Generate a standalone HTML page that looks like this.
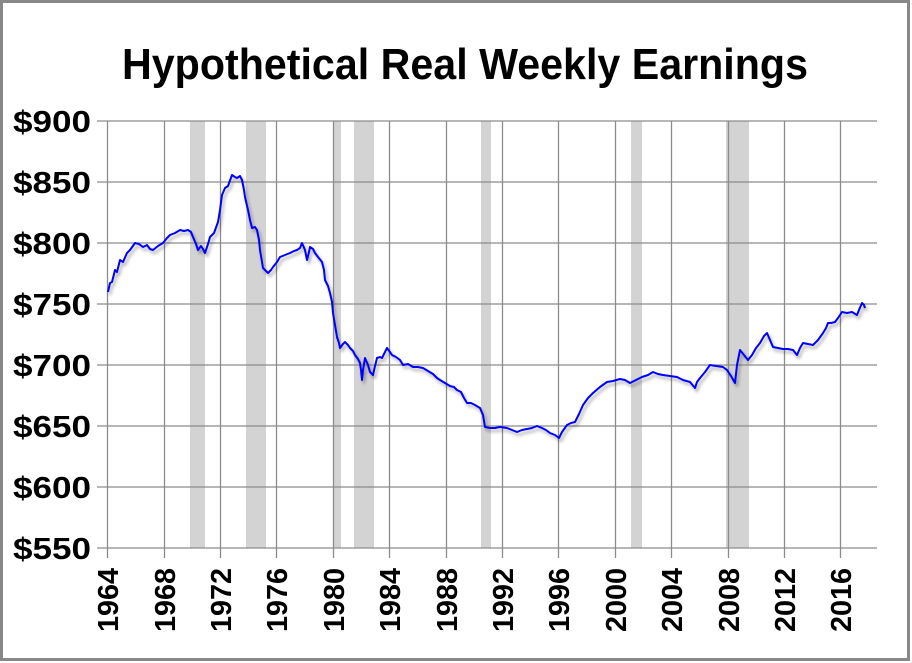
<!DOCTYPE html>
<html><head><style>
html,body{margin:0;padding:0;background:#fff;}
svg{display:block;}
</style></head><body>
<svg width="912" height="663" viewBox="0 0 912 663" xmlns="http://www.w3.org/2000/svg">
<defs><filter id="sh" x="-5%" y="-5%" width="110%" height="110%"><feGaussianBlur in="SourceAlpha" stdDeviation="1.5"/><feOffset dx="2" dy="3"/><feComponentTransfer><feFuncA type="linear" slope="0.35"/></feComponentTransfer><feMerge><feMergeNode/><feMergeNode in="SourceGraphic"/></feMerge></filter></defs>
<rect x="1.5" y="1.5" width="907" height="658" fill="#fff" stroke="#888" stroke-width="3"/>
<text x="465" y="79" text-anchor="middle" font-family="Liberation Sans, sans-serif" font-weight="bold" font-size="44" textLength="686" lengthAdjust="spacingAndGlyphs">Hypothetical Real Weekly Earnings</text>
<g fill="#d3d3d3">
<rect x="190" y="121" width="15" height="427"/><rect x="246" y="121" width="20" height="427"/>
<rect x="333" y="121" width="8" height="427"/><rect x="354" y="121" width="20" height="427"/>
<rect x="481" y="121" width="10" height="427"/><rect x="631" y="121" width="11" height="427"/>
<rect x="726" y="121" width="23" height="427"/>
</g>
<g stroke="#8c8c8c" stroke-width="1.3">
<line x1="97" y1="121" x2="877" y2="121"/><line x1="97" y1="182" x2="877" y2="182"/>
<line x1="97" y1="243" x2="877" y2="243"/><line x1="97" y1="304" x2="877" y2="304"/>
<line x1="97" y1="365" x2="877" y2="365"/><line x1="97" y1="426" x2="877" y2="426"/>
<line x1="97" y1="487" x2="877" y2="487"/><line x1="97" y1="548" x2="877" y2="548"/>
<line x1="107.5" y1="121" x2="107.5" y2="558"/><line x1="164.5" y1="121" x2="164.5" y2="558"/>
<line x1="220.5" y1="121" x2="220.5" y2="558"/><line x1="276.5" y1="121" x2="276.5" y2="558"/>
<line x1="333.5" y1="121" x2="333.5" y2="558"/><line x1="389.5" y1="121" x2="389.5" y2="558"/>
<line x1="446.5" y1="121" x2="446.5" y2="558"/><line x1="502.5" y1="121" x2="502.5" y2="558"/>
<line x1="558.5" y1="121" x2="558.5" y2="558"/><line x1="615.5" y1="121" x2="615.5" y2="558"/>
<line x1="671.5" y1="121" x2="671.5" y2="558"/><line x1="728.5" y1="121" x2="728.5" y2="558"/>
<line x1="784.5" y1="121" x2="784.5" y2="558"/><line x1="840.5" y1="121" x2="840.5" y2="558"/>
</g>
<g font-family="Liberation Sans, sans-serif" font-weight="bold" font-size="31" text-anchor="end">
<text x="91" y="132" textLength="78" lengthAdjust="spacingAndGlyphs">$900</text><text x="91" y="193" textLength="78" lengthAdjust="spacingAndGlyphs">$850</text><text x="91" y="254" textLength="78" lengthAdjust="spacingAndGlyphs">$800</text>
<text x="91" y="315" textLength="78" lengthAdjust="spacingAndGlyphs">$750</text><text x="91" y="376" textLength="78" lengthAdjust="spacingAndGlyphs">$700</text><text x="91" y="437" textLength="78" lengthAdjust="spacingAndGlyphs">$650</text>
<text x="91" y="498" textLength="78" lengthAdjust="spacingAndGlyphs">$600</text><text x="91" y="559" textLength="78" lengthAdjust="spacingAndGlyphs">$550</text>
</g>
<g font-family="Liberation Sans, sans-serif" font-weight="bold" font-size="29" text-anchor="end">
<text transform="translate(118,568) rotate(-90)" textLength="64" lengthAdjust="spacingAndGlyphs">1964</text>
<text transform="translate(175,568) rotate(-90)" textLength="64" lengthAdjust="spacingAndGlyphs">1968</text>
<text transform="translate(231,568) rotate(-90)" textLength="64" lengthAdjust="spacingAndGlyphs">1972</text>
<text transform="translate(287,568) rotate(-90)" textLength="64" lengthAdjust="spacingAndGlyphs">1976</text>
<text transform="translate(344,568) rotate(-90)" textLength="64" lengthAdjust="spacingAndGlyphs">1980</text>
<text transform="translate(400,568) rotate(-90)" textLength="64" lengthAdjust="spacingAndGlyphs">1984</text>
<text transform="translate(457,568) rotate(-90)" textLength="64" lengthAdjust="spacingAndGlyphs">1988</text>
<text transform="translate(513,568) rotate(-90)" textLength="64" lengthAdjust="spacingAndGlyphs">1992</text>
<text transform="translate(569,568) rotate(-90)" textLength="64" lengthAdjust="spacingAndGlyphs">1996</text>
<text transform="translate(626,568) rotate(-90)" textLength="64" lengthAdjust="spacingAndGlyphs">2000</text>
<text transform="translate(682,568) rotate(-90)" textLength="64" lengthAdjust="spacingAndGlyphs">2004</text>
<text transform="translate(739,568) rotate(-90)" textLength="64" lengthAdjust="spacingAndGlyphs">2008</text>
<text transform="translate(795,568) rotate(-90)" textLength="64" lengthAdjust="spacingAndGlyphs">2012</text>
<text transform="translate(851,568) rotate(-90)" textLength="64" lengthAdjust="spacingAndGlyphs">2016</text>
</g>
<polyline filter="url(#sh)" fill="none" stroke="#0000ff" stroke-width="2" stroke-linejoin="round" points="108,292 110,283 112,282 115,270 117,272 120,260 123,262 127,253 130,250 135,243 139,244 143,247 147,245 150,249 153,250 158,246 163,243 167,238 170,235 175,233 180,230 184,231 188,230 191,232 193,237 196,244 198,250 201,246 203,249 205,253 208,244 210,237 214,233 218,222 220,210 222,195 225,188 228,186 232,175 235,177 237,178 240,176 242,180 244,190 245,197 248,210 250,220 252,228 255,227 257,230 259,240 260,250 262,262 263,268 266,271 268,273 271,270 273,267 277,262 280,257 285,255 290,253 294,251 297,250 300,248 302,243 305,250 307,260 309,252 310,247 313,249 315,253 318,257 322,262 324,270 325,280 328,286 330,293 332,302 333,313 335,325 337,337 339,343 340,348 343,344 345,342 348,345 350,348 353,351 355,355 358,359 360,363 361,370 362,380 363,370 365,358 368,365 370,372 373,375 375,366 377,358 380,357 382,358 385,352 387,348 390,352 392,355 396,357 400,360 403,365 408,364 413,367 418,367 423,368 428,371 433,374 437,378 440,380 445,383 450,386 454,387 457,390 461,392 464,398 467,403 471,403 475,405 480,408 483,415 485,427 490,428 495,428 500,427 507,428 512,430 517,432 522,430 527,429 532,428 537,426 542,428 546,430 550,433 555,435 559,438 562,432 567,425 571,423 575,422 579,414 583,405 588,398 593,393 600,387 607,382 613,381 620,379 625,380 630,383 636,380 642,377 648,375 653,372 658,374 663,375 670,376 677,377 683,380 690,382 695,388 697,382 700,378 705,372 710,365 716,366 723,367 727,370 731,376 735,383 737,365 740,350 744,355 748,360 752,355 756,348 760,343 764,336 767,333 770,340 773,347 778,348 783,349 788,349 793,350 797,355 800,348 803,343 808,344 813,345 818,340 823,333 826,328 828,323 831,323 835,322 838,318 842,312 847,313 852,312 857,315 859,310 862,303 864,305 865,308"/>
</svg>
</body></html>
